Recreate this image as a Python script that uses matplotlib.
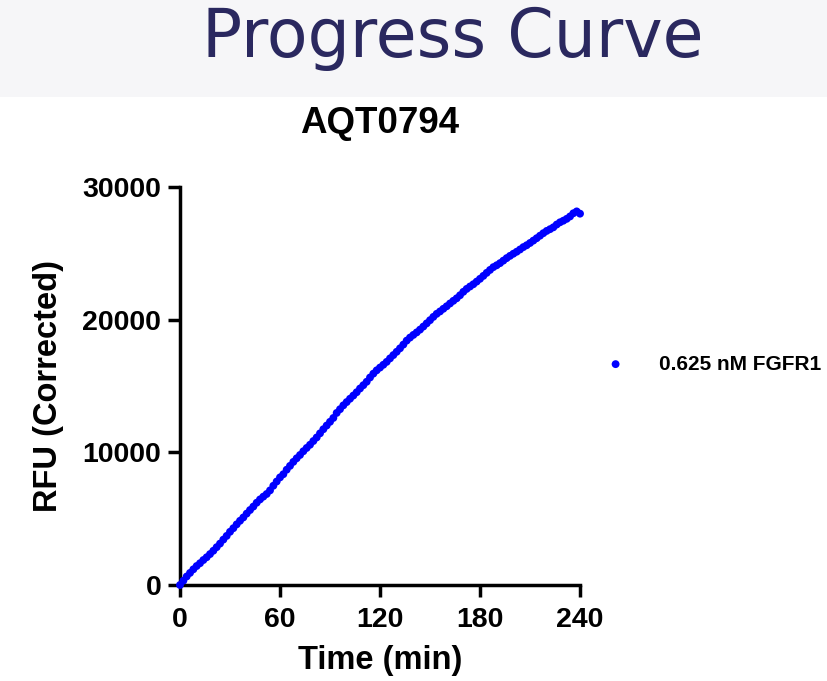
# path : ./plot.py
# Progress Curve 그래프 재현 스크립트

import matplotlib as mpl
mpl.use('Agg')
import matplotlib.pyplot as plt
from matplotlib.patches import Rectangle

# 데이터 : 시간 (min), 2분 간격
time_min = list(range(0, 242, 2))

# RFU (Corrected) 값
rfu_values = [
    0, 320, 640, 910, 1180, 1430, 1640, 1880, 2090, 2330,
    2580, 2850, 3120, 3420, 3700, 4010, 4280, 4570, 4840, 5090,
    5380, 5650, 5910, 6200, 6450, 6660, 6860, 7130, 7480, 7800,
    8110, 8350, 8690, 8980, 9280, 9550, 9800, 10080, 10330, 10570,
    10850, 11120, 11430, 11740, 12020, 12300, 12590, 12970, 13250, 13540,
    13790, 14040, 14280, 14530, 14810, 15060, 15320, 15640, 15930, 16180,
    16390, 16600, 16820, 17080, 17330, 17580, 17840, 18120, 18420, 18650,
    18850, 19040, 19250, 19480, 19720, 19960, 20210, 20440, 20620, 20820,
    21010, 21220, 21420, 21610, 21840, 22100, 22320, 22500, 22670, 22870,
    23080, 23300, 23530, 23750, 23960, 24100, 24260, 24450, 24640, 24810,
    24970, 25120, 25290, 25470, 25610, 25780, 25960, 26140, 26330, 26520,
    26690, 26820, 26960, 27170, 27340, 27460, 27600, 27780, 28020, 28160,
    27990,
]

series_label = '0.625 nM FGFR1'
chart_title = 'AQT0794'
header_title = 'Progress Curve'
x_ticks = [0, 60, 120, 180, 240]
y_ticks = [0, 10000, 20000, 30000]


def draw_progress_curve():
    '진행 곡선 (Progress Curve) 그리기'
    mpl.rc('font', family=['Liberation Sans', 'DejaVu Sans'])

    fig = plt.figure(figsize=(8.28, 6.81), dpi=100)

    # 상단 헤더 영역 (회색 배경 + 제목)
    fig.patches.append(Rectangle((0, 0.857), 1, 0.143, transform=fig.transFigure,
                                 facecolor='#f6f6f8', edgecolor='none', zorder=0))
    fig.text(0.547, 0.9163, header_title, ha='center', va='baseline',
             fontsize=48, color='#2a285f', family=['DejaVu Sans'])

    ax = fig.add_axes([0.2174, 0.141, 0.4831, 0.5844])
    ax.scatter(time_min, rfu_values, s=32, color='#0000ff', edgecolors='none',
               label=series_label, clip_on=False, zorder=3)

    ax.set_xlim(0, 240)
    ax.set_ylim(0, 30000)
    ax.set_xticks(x_ticks)
    ax.set_yticks(y_ticks)

    # 축 스타일 (왼쪽, 아래만 표시)
    for side in ['top', 'right']:
        ax.spines[side].set_visible(False)
    for side in ['left', 'bottom']:
        ax.spines[side].set_linewidth(2.5)
    ax.tick_params(width=2.5, length=8.5, labelsize=20.5)
    ax.tick_params(axis='x', pad=7)
    ax.tick_params(axis='y', pad=5)
    for lbl in ax.get_xticklabels() + ax.get_yticklabels():
        lbl.set_fontweight('bold')

    ax.set_title(chart_title, fontsize=26.5, fontweight='bold', pad=39)
    ax.set_xlabel('Time (min)', fontsize=23.5, fontweight='bold', labelpad=9)
    ax.set_ylabel('RFU (Corrected)', fontsize=23.5, fontweight='bold', labelpad=13)

    # 범례 (축 오른쪽)
    ax.legend(loc='center left', bbox_to_anchor=(0.99, 0.555), frameon=False,
              prop={'size': 15, 'weight': 'bold'}, handletextpad=1.1,
              markerscale=1.0)

    fig.savefig('out.png', dpi=100)


#------------------------------------------------------------------------------main
if __name__ == "__main__":
    draw_progress_curve()
